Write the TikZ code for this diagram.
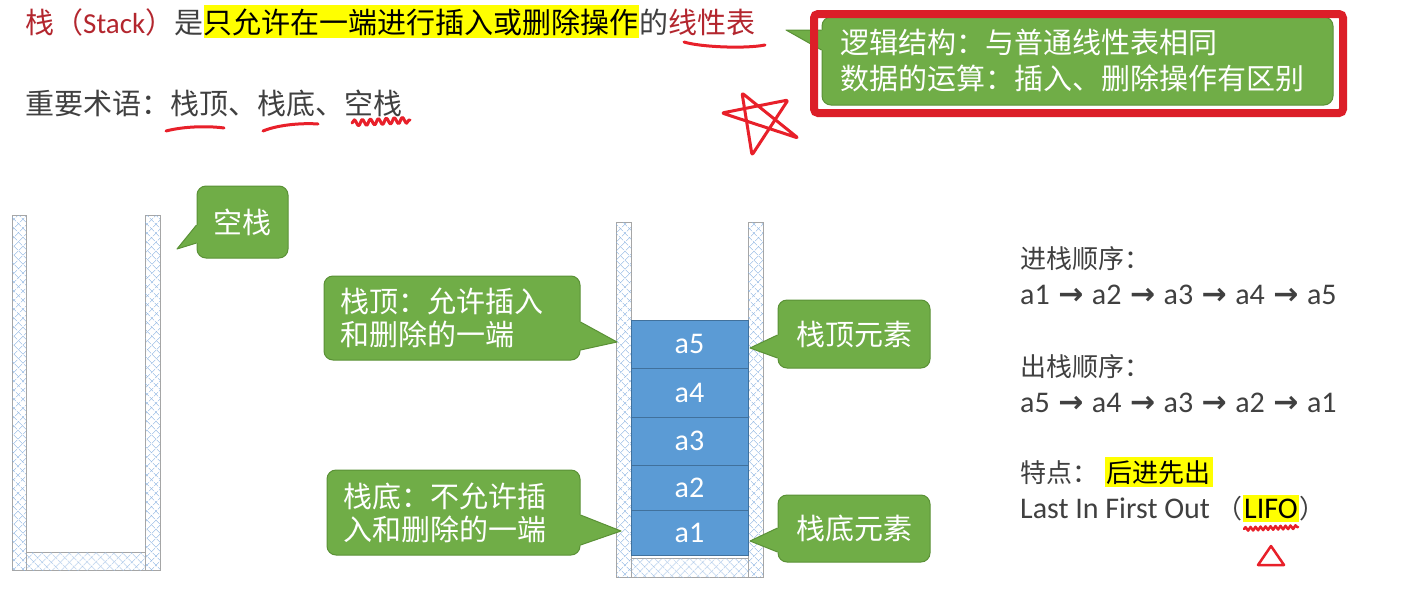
\documentclass[tikz,border=0pt]{standalone}
\usepackage{fontspec}
\setmainfont{Noto Sans CJK SC}
\newfontfamily\lat{Carlito}
\newfontfamily\sym{DejaVu Sans}
\usetikzlibrary{patterns.meta,decorations.pathmorphing,calc}
\definecolor{cgreen}{HTML}{70AD47}
\definecolor{cborder}{HTML}{5A9136}
\definecolor{bfill}{HTML}{5B9BD5}
\definecolor{bborder}{HTML}{41719C}
\definecolor{hatch}{HTML}{8DB4E2}
\definecolor{wallgray}{HTML}{A6A6A6}
\definecolor{tgray}{HTML}{404040}
\definecolor{dred}{HTML}{B3262E}
\definecolor{pen}{HTML}{E8202A}
\definecolor{hly}{HTML}{FFFF00}
\newcommand\cptr[5]{%
  \fill[cgreen] ($(#1)+(#5,#3)$) -- ($(#1)+(0,#3)$) -- (#2) -- ($(#1)+(0,#4)$) -- ($(#1)+(#5,#4)$) -- cycle;
  \draw[cborder,line width=1pt,line join=round] ($(#1)+(0,#3)$) -- (#2) -- ($(#1)+(0,#4)$);}
\newcommand\arr{\hspace{8.5pt}{\sym\bfseries\fontsize{30}{30}\selectfont →}\hspace{8.5pt}}
\begin{document}
\begin{tikzpicture}[x=1pt,y=-1pt,
  txt/.style={inner sep=0pt,text=tgray,font=\fontsize{29}{36}\selectfont},
  rtxt/.style={inner sep=0pt,text=tgray,font=\fontsize{26}{32}\selectfont},
  ltxt/.style={inner sep=0pt,text=tgray,font=\lat\fontsize{30}{34}\selectfont},
  callbox/.style={draw=cborder,line width=1pt,fill=cgreen,rounded corners=9pt,text=white,
    inner ysep=0pt,font=\fontsize{29}{33}\selectfont},
  blk/.style={draw=bborder,line width=1pt,fill=bfill,text=white,inner sep=0pt,
    minimum width=117pt,font=\lat\fontsize{30}{32}\selectfont},
  wall/.style={draw=wallgray,line width=0.8pt,
    pattern={Lines[angle=45,distance=6.5pt,line width=0.7pt]},pattern color=hatch,
    postaction={pattern={Lines[angle=-45,distance=6.5pt,line width=0.7pt]},pattern color=hatch}},
  redpen/.style={draw=pen,line width=3pt,line cap=round,line join=round}]
\fill[white] (0,0) rectangle (1404,592);
\useasboundingbox (0,0) rectangle (1404,592);

% top text
\node[txt,anchor=base west] (t1) at (25,33) {\textcolor{dred}{栈（{\lat Stack}）}是};
\node[txt,anchor=base west,fill=hly,inner ysep=3pt,text=black] (t2) at (t1.base east) {只允许在一端进行插入或删除操作};
\node[txt,anchor=base west] (t3) at (t2.base east) {的\textcolor{dred}{线性表}};
\node[txt,anchor=base west] (t4) at (25,114) {重要术语：栈顶、栈底、空栈};

% red pen marks
\draw[redpen] (684,42) .. controls (700,47) and (745,49) .. (765,45);
\draw[redpen] (166,131) .. controls (185,126) and (210,126) .. (224,128);
\draw[redpen] (263,131) .. controls (280,124) and (305,123) .. (318,124);
\draw[redpen,decorate,decoration={snake,amplitude=3pt,segment length=8pt}] (352,123) -- (410,120);
\draw[redpen,rounded corners=2pt] (742,93) -- (798,138) -- (722,113) -- (788,100) -- (752,155) -- cycle;

% left empty stack
\path[wall] (12,215) rectangle (26,570);
\path[wall] (145,215) rectangle (160,570);
\path[wall] (26,552) rectangle (145,570);

% middle stack
\path[wall] (616,222) rectangle (631,577);
\path[wall] (748,222) rectangle (763,577);
\path[wall] (631,558) rectangle (748,577);
\node[blk,minimum height=45pt] (b1) at (689.5,532.5) {a1};
\node[blk,minimum height=45pt] (b2) at (689.5,487.5) {a2};
\node[blk,minimum height=48pt] (b3) at (689.5,441) {a3};
\node[blk,minimum height=49pt] (b4) at (689.5,392.5) {a4};
\node[blk,minimum height=48pt] (b5) at (689.5,344) {a5};

% callouts
\coordinate (p0) at (177,249);
\coordinate (p1) at (617,342);
\coordinate (p2) at (621,531);
\coordinate (p3) at (750,348);
\coordinate (p4) at (750,541);
\coordinate (pt) at (786,30);

\node[callbox,minimum width=91pt,minimum height=72pt] (k0) at (242.5,222) {空栈};
\cptr{k0.west}{p0}{3}{21}{2}
\node[callbox,text width=224pt,inner xsep=16pt,minimum height=84pt,align=left] (k1) at (452,318) {栈顶：允许插入\\和删除的一端};
\cptr{k1.east}{p1}{4}{32}{-2}
\node[callbox,text width=221pt,inner xsep=16pt,minimum height=85pt,align=left] (k2) at (453.5,512.5) {栈底：不允许插\\入和删除的一端};
\cptr{k2.east}{p2}{2.5}{32.5}{-2}
\node[callbox,minimum width=152pt,minimum height=68pt] (k3) at (854,334) {栈顶元素};
\cptr{k3.west}{p3}{1}{24}{2}
\node[callbox,minimum width=152pt,minimum height=67pt] (k4) at (854,528.5) {栈底元素};
\cptr{k4.west}{p4}{-0.5}{23.5}{2}
\node[callbox,text width=475pt,inner xsep=18pt,minimum height=88pt,align=left,font=\fontsize{29}{36}\selectfont] (kt) at (1077.5,61) {逻辑结构：与普通线性表相同\\数据的运算：插入、删除操作有区别};
\cptr{kt.west}{pt}{-31}{-11}{2}
\draw[draw=pen!95!black,line width=8pt,rounded corners=4pt] (814,14) rectangle (1343,113);

% right text
\node[rtxt,anchor=base west] (r1) at (1020,268) {进栈顺序：};
\node[ltxt,anchor=base west] (r2) at (1020,304) {a1\arr a2\arr a3\arr a4\arr a5};
\node[rtxt,anchor=base west] (r3) at (1020,376) {出栈顺序：};
\node[ltxt,anchor=base west] (r4) at (1020,412) {a5\arr a4\arr a3\arr a2\arr a1};
\node[rtxt,anchor=base west] (r5) at (1020,482) {特点：};
\node[rtxt,anchor=base west,fill=hly,inner ysep=3pt,inner xsep=2pt,text=black] (r6) at ([xshift=6pt]r5.base east) {后进先出};
\node[ltxt,anchor=base west] (r7) at (1020,518) {Last In First Out {\rmfamily\fontsize{26}{32}\selectfont （}};
\node[ltxt,anchor=base west,fill=hly,inner ysep=4pt,inner xsep=1pt,text=black] (r8) at (r7.base east) {LIFO};
\node[rtxt,anchor=base west] (r9) at (r8.base east) {）};
\draw[redpen,line width=2.5pt,decorate,decoration={snake,amplitude=1.8pt,segment length=5pt}] (1244,529) -- (1298,527);
\draw[redpen,line width=2.5pt] (1258,565) -- (1284,565) -- (1271,546) -- cycle;
\end{tikzpicture}
\end{document}
